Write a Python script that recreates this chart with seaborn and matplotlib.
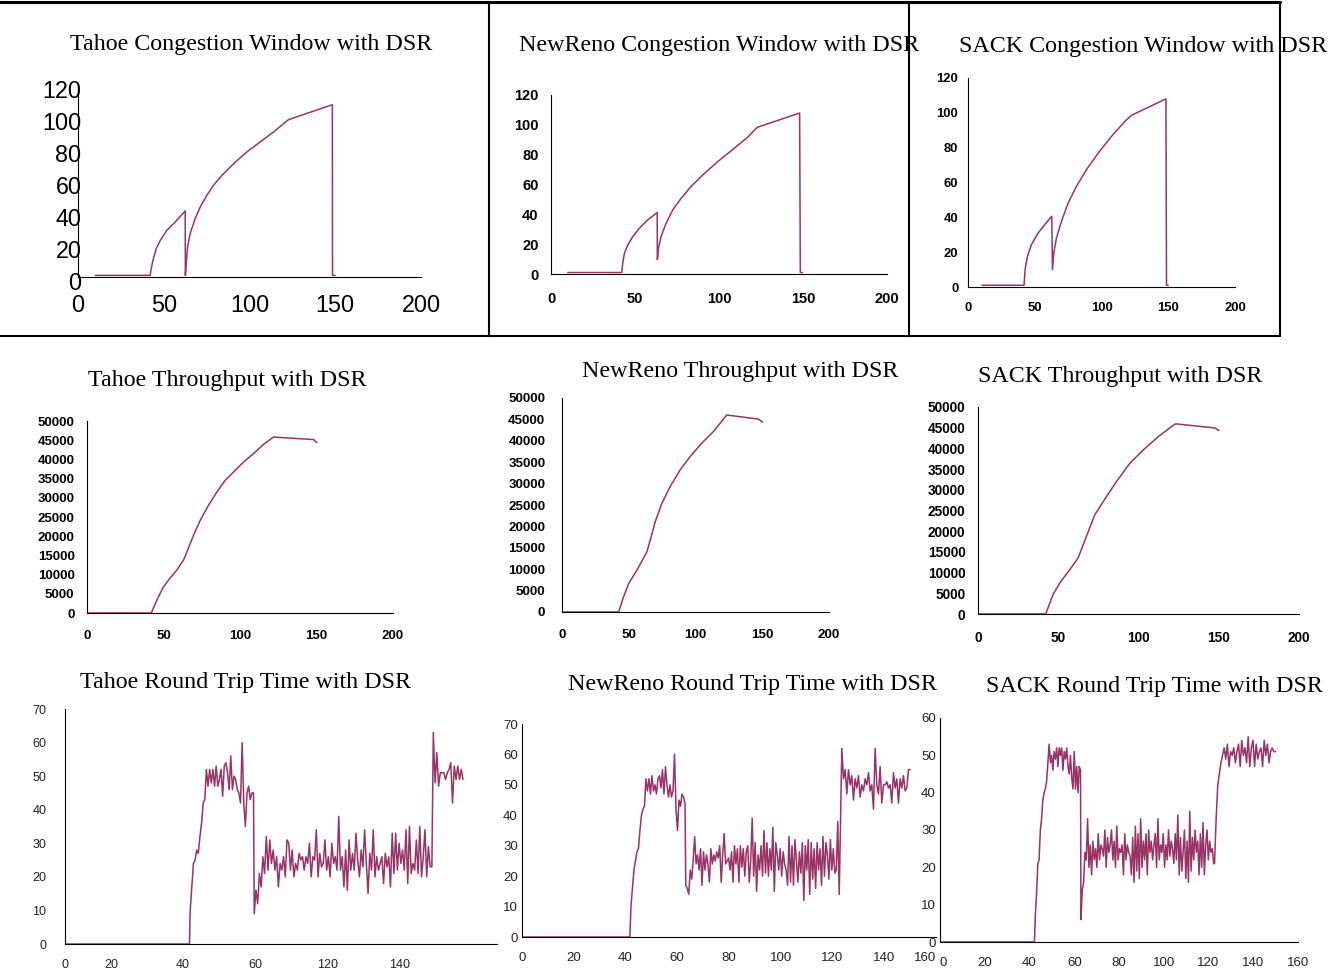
import matplotlib
matplotlib.use("Agg")
import matplotlib.pyplot as plt
import numpy as np
import pandas as pd
import seaborn as sns
from matplotlib.lines import Line2D
from matplotlib.transforms import ScaledTranslation

W, H = 1344, 971
LINE = "#993366"

# ---- congestion window (packets) over time (s) ----
tahoe_cwnd_t = [10.1, 42.1, 42.5, 43.7, 45.6, 48.0, 51.8, 56.7, 62.5, 62.6, 63.1, 63.9, 65.4,
                68.3, 71.3, 75.1, 79.0, 83.9, 90.7, 98.4, 106.2, 114.0, 122.7, 148.3, 148.4, 150.0]
tahoe_cwnd = [1, 1, 4.2, 10.4, 17.7, 22.9, 29.2, 34.4, 41.3, 1, 8.3, 18.8, 27.1,
              36.5, 43.8, 51.0, 57.3, 63.5, 70.8, 78.1, 84.4, 90.6, 98.3, 107.7, 1, 1]

newreno_cwnd_t = [10.0, 42.1, 42.7, 43.7, 45.7, 48.7, 52.6, 57.6, 63.2, 63.3, 64.0, 65.5, 68.5,
                  72.5, 77.5, 83.4, 90.4, 99.3, 109.2, 117.2, 122.7, 148.0, 148.4, 149.6]
newreno_cwnd = [1, 1, 7.2, 13.9, 19.5, 25.1, 30.7, 36.3, 41.2, 9.8, 17.2, 25.1, 34.0,
                43.0, 50.8, 58.7, 66.5, 75.4, 84.4, 91.8, 98.3, 107.9, 1, 1]

sack_cwnd_t = [10.5, 42.0, 42.75, 44.5, 47.5, 52.5, 57.5, 62.75, 63.25, 64.25, 66.25, 70.0,
               75.0, 81.25, 88.75, 97.5, 107.5, 117.5, 122.5, 148.25, 148.7, 150.0]
sack_cwnd = [1, 1, 10, 17.6, 24.3, 31, 35.8, 40.6, 10, 19.5, 28.1, 37.7,
             48.2, 57.8, 67.4, 76.9, 86.5, 95.1, 98.6, 108, 1, 1]

# ---- throughput over time (s) ----
tahoe_thr_t = [0, 42.0, 45.8, 49.5, 53.4, 58.8, 63.2, 65.4, 69.7, 74.1, 79.5, 85.0, 90.4, 95.9,
               102.4, 108.9, 115.5, 122.0, 124.2, 148.1, 150.3]
tahoe_thr = [0, 0, 3460, 6490, 8650, 11250, 13840, 16000, 20330, 24220, 28110, 31570, 34600,
             36770, 39360, 41520, 43940, 45850, 45760, 45160, 44380]

newreno_thr_t = [0, 42.4, 46.1, 49.9, 56.1, 63.6, 66.1, 69.8, 74.8, 81.0, 88.5, 96.0, 104.7,
                 113.5, 123.4, 147.1, 150.1]
newreno_thr = [0, 0, 3520, 6640, 9770, 14060, 16800, 21090, 25390, 29300, 33200, 36330, 39450,
               42190, 46020, 45080, 44380]

sack_thr_t = [0, 42.2, 46.7, 50.9, 57.1, 62.3, 67.5, 72.7, 80.0, 86.2, 94.5, 102.8, 112.1, 122.5,
              123.6, 147.5, 150.2]
sack_thr = [0, 0, 4650, 7460, 10670, 13480, 18700, 23920, 28330, 31940, 36360, 39570, 42780,
            45830, 45910, 44940, 44300]

# ---- round trip time samples, one list per phase (idle, slow start, steady, late) ----
tahoe_rtt_spans = [(0, 34.4), (34.6, 52.1), (52.3, 101.4), (101.8, 110.0)]
tahoe_rtt_idle = [0, 0]
tahoe_rtt_ramp = [10, 17, 24, 25, 28, 27, 32, 36, 42, 43, 52, 47, 52, 48, 52, 47, 53, 47, 49, 52,
                  44, 53, 54, 51, 46, 56, 46, 50, 49, 46, 45, 42, 60, 42, 35, 45, 47, 43, 45, 45]
tahoe_rtt_mid = [9, 16, 12, 21, 17, 26, 21, 32, 22, 31, 24, 28, 22, 26, 17, 24, 22, 26, 20, 31,
                 30, 22, 28, 20, 24, 22, 27, 25, 26, 22, 26, 24, 30, 20, 26, 25, 34, 20, 27, 23,
                 24, 31, 22, 26, 20, 30, 24, 26, 22, 38, 22, 26, 17, 28, 16, 31, 22, 27, 22, 33,
                 25, 20, 28, 23, 34, 24, 15, 27, 22, 34, 20, 26, 22, 24, 26, 18, 27, 23, 26, 17,
                 33, 21, 33, 22, 30, 24, 28, 22, 34, 18, 35, 21, 24, 22, 31, 21, 35, 20, 26, 34,
                 20, 29, 23, 23]
tahoe_rtt_high = [63, 48, 57, 47, 51, 51, 51, 49, 51, 52, 54, 42, 53, 49, 53, 49, 52, 49]

newreno_rtt_spans = [(0, 41.7), (42.1, 63.0), (63.3, 122.6), (123.6, 150.0)]
newreno_rtt_idle = [0, 0]
newreno_rtt_ramp = [10, 16, 22, 25, 28, 29, 35, 40, 42, 43, 52, 48, 52, 47, 53, 48, 50, 47, 52, 53,
                    49, 55, 47, 56, 50, 46, 50, 46, 48, 60, 42, 35, 45, 43, 47, 46, 44]
newreno_rtt_mid = [17, 16, 14, 22, 19, 25, 33, 24, 27, 22, 29, 17, 28, 22, 27, 24, 18, 29, 24, 27,
                   25, 28, 26, 30, 18, 27, 34, 24, 25, 26, 22, 28, 18, 30, 24, 29, 18, 30, 23, 29,
                   20, 28, 30, 18, 25, 39, 20, 31, 15, 27, 22, 30, 20, 35, 21, 31, 20, 29, 22, 36,
                   15, 31, 27, 22, 29, 20, 28, 24, 22, 17, 33, 18, 30, 17, 32, 25, 18, 28, 21, 31,
                   12, 30, 22, 32, 14, 31, 19, 29, 16, 31, 22, 29, 17, 33, 20, 31, 27, 19, 32, 22,
                   29, 21, 22, 38, 14]
newreno_rtt_high = [62, 52, 55, 47, 55, 50, 53, 45, 52, 49, 53, 46, 50, 48, 52, 50, 54, 48, 50, 42,
                    62, 50, 47, 56, 44, 50, 50, 51, 49, 50, 44, 54, 49, 52, 44, 52, 49, 53, 48, 49,
                    55, 55]

sack_rtt_spans = [(0, 42.2), (42.6, 62.8), (63.0, 122.3), (122.7, 149.9)]
sack_rtt_idle = [0, 0]
sack_rtt_ramp = [7, 13, 21, 22, 30, 33, 38, 40, 41, 43, 48, 53, 48, 50, 46, 51, 49, 52, 47, 52,
                 50, 52, 46, 51, 49, 52, 47, 45, 50, 44, 41, 51, 41, 47, 40, 47, 46]
sack_rtt_mid = [6, 14, 16, 24, 22, 33, 20, 26, 18, 27, 22, 25, 20, 29, 22, 26, 25, 23, 30, 20,
                28, 24, 26, 30, 22, 27, 20, 31, 22, 25, 24, 26, 18, 29, 22, 26, 24, 23, 18, 28,
                16, 31, 19, 29, 17, 33, 20, 27, 22, 29, 18, 30, 24, 27, 22, 26, 29, 20, 33, 22,
                26, 24, 29, 20, 26, 22, 30, 23, 27, 25, 21, 29, 22, 34, 18, 28, 19, 24, 30, 17,
                27, 16, 35, 19, 28, 22, 30, 24, 27, 18, 29, 20, 32, 18, 26, 30, 22, 27, 24, 25, 21]
sack_rtt_high = [21, 33, 42, 45, 48, 50, 52, 49, 53, 47, 51, 50, 52, 48, 51, 53, 47, 54, 50, 52,
                 48, 55, 47, 52, 54, 47, 53, 49, 51, 52, 47, 54, 50, 53, 48, 51, 52, 51, 51]

# Tahoe RTT axis in the source has uneven tick labels
tahoe_rtt_ticks = [0, 12.7, 32.5, 52.5, 72.5, 92.4]
tahoe_rtt_ticklabels = ["0", "20", "40", "60", "120", "140"]


def sampled(spans, *phases):
    t, v = [], []
    for (a, b), vals in zip(spans, phases):
        t.extend(np.linspace(a, b, len(vals)))
        v.extend(vals)
    return t, v


def px_axes(fig, left, top, right, bottom):
    return fig.add_axes([left / W, 1 - bottom / H, (right - left) / W, (bottom - top) / H])


def draw(ax, t, v):
    df = pd.DataFrame({"t": t, "v": v})
    sns.lineplot(data=df, x="t", y="v", ax=ax, color=LINE, lw=1.1,
                 sort=False, estimator=None)
    ax.set_xlabel("")
    ax.set_ylabel("")


def style(ax, xlim, ylim, xticks, yticks, size, bold=False, color="black",
          xpad=6, ypad=4, xlen=4, ylen=4, xdir="out", xlabels=None):
    ax.set_facecolor("none")
    ax.set_xlim(*xlim)
    ax.set_ylim(*ylim)
    ax.set_xticks(xticks)
    ax.set_yticks(yticks)
    if xlabels is not None:
        ax.set_xticklabels(xlabels)
    for s in ["top", "right"]:
        ax.spines[s].set_visible(False)
    for s in ["left", "bottom"]:
        ax.spines[s].set_color("black")
        ax.spines[s].set_linewidth(0.8)
    weight = "bold" if bold else "normal"
    ax.tick_params(axis="x", direction=xdir, length=xlen, width=0.8, pad=xpad,
                   labelsize=size, labelcolor=color)
    ax.tick_params(axis="y", direction="out", length=ylen, width=0.8, pad=ypad,
                   labelsize=size, labelcolor=color)
    for lab in ax.get_xticklabels() + ax.get_yticklabels():
        lab.set_fontweight(weight)
    ax.grid(False)


sns.set_style("white")
plt.rcParams["font.family"] = ["Liberation Sans", "DejaVu Sans"]

fig = plt.figure(figsize=(W / 100, H / 100), dpi=100)

titles = [
    ("Tahoe Congestion Window with DSR", 251, 44.5),
    ("NewReno Congestion Window with DSR", 719, 45.5),
    ("SACK Congestion Window with DSR", 1143, 46.5),
    ("Tahoe Throughput with DSR", 227, 380.5),
    ("NewReno Throughput with DSR", 740, 371.5),
    ("SACK Throughput with DSR", 1120, 376.5),
    ("Tahoe Round Trip Time with DSR", 246, 682.5),
    ("NewReno Round Trip Time with DSR", 752, 684.5),
    ("SACK Round Trip Time with DSR", 1154, 686.5),
]
for text, x, y in titles:
    fig.text(x / W, 1 - y / H, text, ha="center", va="center",
             family="Liberation Serif", fontsize=17.3, color="black")

cw_x = [0, 50, 100, 150, 200]
cw_y = [0, 20, 40, 60, 80, 100, 120]

# top row: congestion window
ax1 = px_axes(fig, 78, 85, 421, 277)
draw(ax1, tahoe_cwnd_t, tahoe_cwnd)
style(ax1, (0, 200), (0, 120), cw_x, cw_y, 16.8, xpad=12.5, ypad=-2.5,
      xdir="in", xlen=4, ylen=0)
shift = ScaledTranslation(0, -4 / 100, fig.dpi_scale_trans)
for lab in ax1.get_yticklabels():
    lab.set_transform(lab.get_transform() + shift)

ax2 = px_axes(fig, 551, 95, 887, 274)
draw(ax2, newreno_cwnd_t, newreno_cwnd)
style(ax2, (0, 200), (0, 120), cw_x, cw_y, 10.5, bold=True, xpad=9, ypad=5)

ax3 = px_axes(fig, 968, 78, 1235, 287)
draw(ax3, sack_cwnd_t, sack_cwnd)
style(ax3, (0, 200), (0, 120), cw_x, cw_y, 9.4, bold=True, xpad=7, ypad=3)

# middle row: throughput
thr_y = list(range(0, 50001, 5000))
ax4 = px_axes(fig, 87, 421, 393, 613)
draw(ax4, tahoe_thr_t, tahoe_thr)
style(ax4, (0, 200), (0, 50000), cw_x, thr_y, 9.5, bold=True, xpad=8, ypad=5)

ax5 = px_axes(fig, 562, 398, 829, 612)
draw(ax5, newreno_thr_t, newreno_thr)
style(ax5, (0, 200), (0, 50000), cw_x, thr_y, 9.6, bold=True, xpad=8, ypad=8)

ax6 = px_axes(fig, 978, 407, 1299, 614)
draw(ax6, sack_thr_t, sack_thr)
style(ax6, (0, 200), (0, 50000), cw_x, thr_y, 9.8, bold=True, xpad=8, ypad=5)

# bottom row: round trip time
ax7 = px_axes(fig, 65, 709, 497, 944)
t, v = sampled(tahoe_rtt_spans, tahoe_rtt_idle, tahoe_rtt_ramp, tahoe_rtt_mid, tahoe_rtt_high)
draw(ax7, t, v)
style(ax7, (0, 119.4), (0, 70), tahoe_rtt_ticks, list(range(0, 71, 10)), 9,
      color="#222222", xpad=7, ypad=8.5, ylen=5, xlabels=tahoe_rtt_ticklabels)

ax8 = px_axes(fig, 522, 724, 936, 937)
t, v = sampled(newreno_rtt_spans, newreno_rtt_idle, newreno_rtt_ramp, newreno_rtt_mid,
               newreno_rtt_high)
draw(ax8, t, v)
style(ax8, (0, 160), (0, 70), list(range(0, 161, 20)), list(range(0, 71, 10)), 9.5,
      color="#222222", xpad=7, ypad=0, ylen=3)
# last label sits at the seam with the SACK panel; keep it clear of that panel's "0"
ax8.get_xticklabels()[-1].set_horizontalalignment("right")

ax9 = px_axes(fig, 940, 718, 1298, 942)
t, v = sampled(sack_rtt_spans, sack_rtt_idle, sack_rtt_ramp, sack_rtt_mid, sack_rtt_high)
draw(ax9, t, v)
style(ax9, (0, 160), (0, 60), list(range(0, 161, 20)), list(range(0, 61, 10)), 9.5,
      color="#222222", xpad=7, ypad=0, ylen=3)
ax9.get_xticklabels()[0].set_horizontalalignment("left")

# frame around the top row
frame = [((0, 2), (1280, 2), 2.2), ((0, 336), (1280, 336), 1.5),
         ((489, 2), (489, 336), 1.5), ((909, 2), (909, 336), 1.5),
         ((1280, 2), (1280, 336), 1.5)]
for (x0, y0), (x1, y1), lw in frame:
    fig.add_artist(Line2D([x0 / W, x1 / W], [1 - y0 / H, 1 - y1 / H],
                          transform=fig.transFigure, color="black", lw=lw, zorder=10))

fig.savefig("out.png", dpi=100, facecolor="white")
